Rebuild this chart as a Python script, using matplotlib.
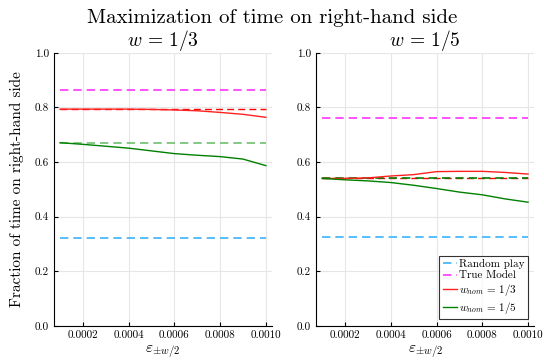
import matplotlib
matplotlib.use("Agg")
import matplotlib.pyplot as plt
from matplotlib.ticker import FormatStrFormatter

plt.rcParams["font.family"] = ["cmr10", "DejaVu Serif"]
plt.rcParams["mathtext.fontset"] = "cm"
plt.rcParams["axes.formatter.use_mathtext"] = True

eps = [0.0001, 0.0002, 0.0003, 0.0004, 0.0005, 0.0006, 0.0007, 0.0008, 0.0009, 0.0010]

# w = 1/3
random_13 = 0.323
true_13 = 0.864
nom13_13 = [0.794, 0.794, 0.794, 0.794, 0.793, 0.791, 0.788, 0.782, 0.775, 0.764]
nom15_13 = [0.671, 0.665, 0.658, 0.651, 0.641, 0.631, 0.625, 0.620, 0.611, 0.587]

# w = 1/5
random_15 = 0.327
true_15 = 0.763
nom13_15 = [0.540, 0.540, 0.542, 0.549, 0.554, 0.565, 0.566, 0.566, 0.562, 0.556]
nom15_15 = [0.540, 0.535, 0.531, 0.525, 0.515, 0.503, 0.490, 0.480, 0.465, 0.453]

panels = [
    (r"$w\,=\,1/3$", random_13, true_13, nom13_13, nom15_13, "#6fbf6f"),
    (r"$w\,=\,1/5$", random_15, true_15, nom13_15, nom15_15, "#008000"),
]

fig = plt.figure(figsize=(5.44, 3.6), dpi=100)
axes = [fig.add_axes([0.099, 0.095, 0.401, 0.758]),
        fig.add_axes([0.581, 0.095, 0.401, 0.758])]

for ax, (title, rnd, tru, n13, n15, gdash) in zip(axes, panels):
    ax.plot(eps, [rnd] * len(eps), color="#3bb3ff", ls=(0, (5, 3)), lw=1.2, label="Random play")
    ax.plot(eps, [tru] * len(eps), color="#ff33ff", ls=(0, (5, 3)), lw=1.2, label="True Model")
    ax.plot(eps, [n13[0]] * len(eps), color="#ff0000", ls=(0, (5, 3)), lw=1.0)
    ax.plot(eps, [n15[0]] * len(eps), color=gdash, ls=(0, (5, 3)), lw=1.2)
    ax.plot(eps, n13, color="#ff2020", lw=1.0, label="$w_{nom}\\,=\\,1/3$")
    ax.plot(eps, n15, color="#008000", lw=1.0, label="$w_{nom}\\,=\\,1/5$")

    ax.set_xlim(0.000073, 0.001027)
    ax.set_ylim(0, 1)
    ax.set_xticks([0.0002, 0.0004, 0.0006, 0.0008, 0.0010])
    ax.set_yticks([0.0, 0.2, 0.4, 0.6, 0.8, 1.0])
    ax.xaxis.set_major_formatter(FormatStrFormatter("%.4f"))
    ax.yaxis.set_major_formatter(FormatStrFormatter("%.1f"))
    ax.tick_params(direction="in", labelsize=8, length=3, width=0.8, colors="black")
    ax.grid(True, color="#e6e6e6", lw=0.8)
    ax.set_axisbelow(True)
    for s in ["top", "right"]:
        ax.spines[s].set_visible(False)
    ax.set_title(title, fontsize=14, pad=4)
    ax.set_xlabel(r"$\varepsilon_{\pm w/2}$", fontsize=11, labelpad=2)

axes[0].set_ylabel("Fraction of time on right-hand side", fontsize=11, labelpad=8)
leg = axes[1].legend(loc="lower right", fontsize=8, frameon=True, fancybox=False,
                     edgecolor="black", handlelength=1.3, handletextpad=0.15,
                     borderpad=0.3, labelspacing=0.15, borderaxespad=0.6)
leg.get_frame().set_linewidth(0.8)

fig.suptitle("Maximization of time on right-hand side", fontsize=15, y=0.975)

fig.savefig("out.png", dpi=100)
